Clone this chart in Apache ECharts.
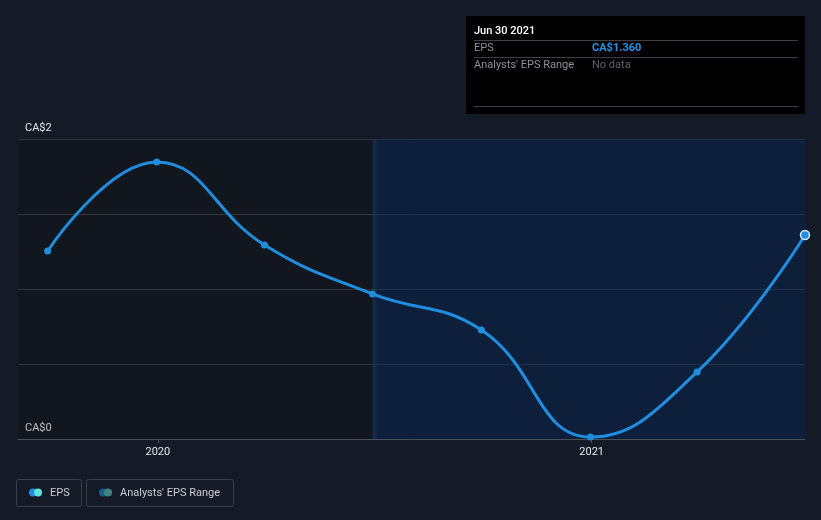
<!DOCTYPE html>
<html><head><meta charset="utf-8">
<script src="https://cdn.jsdelivr.net/npm/echarts@6/dist/echarts.min.js"></script>
<style>html,body{margin:0;padding:0;background:#151b26;}#c{width:821px;height:520px;}</style>
</head><body><div id="c"></div>
<script>
var dates = ['2019-09-30','2019-12-31','2020-03-31','2020-06-30','2020-09-30','2020-12-31','2021-03-31','2021-06-30'];
var eps = [1.253, 1.847, 1.293, 0.967, 0.727, 0.013, 0.447, 1.360];
var yTicks = [0, 2];
var xTickDates = ['2020-01-01','2021-01-01'];
var actualStart = '2020-06-30';
var axisStart = '2019-09-05';
var axisEnd = '2021-06-30';

function ts(d){ return new Date(d + 'T00:00:00Z').getTime(); }
var chart = echarts.init(document.getElementById('c'), null, {renderer:'canvas'});
var font = 'Roboto, "Noto Sans", sans-serif';
var DAY = 86400000;
chart.setOption({
  backgroundColor:'#151b26',
  animation:false,
  grid:{left:18, right:16, top:139, bottom:81},
  xAxis:{
    type:'value', min: ts(axisStart), max: ts(axisEnd),
    axisLine:{show:true, lineStyle:{color:'#4a4f59', width:1}},
    axisTick:{show:true, customValues: xTickDates.map(ts), length:4, lineStyle:{color:'#4a4f59'}},
    axisLabel:{customValues: xTickDates.map(ts), color:'#e6e8eb', fontFamily:font, fontSize:11, margin:8,
      formatter:function(v){ return new Date(v).getUTCFullYear() + ''; }},
    splitLine:{show:false}
  },
  yAxis:{
    type:'value', min:0, max:2, interval:0.5,
    axisLine:{show:false}, axisTick:{show:false},
    splitLine:{lineStyle:{color:'#3a404b', width:1}},
    axisLabel:{inside:true, margin:7, verticalAlign:'bottom', padding:[0,0,5,0], color:'#e6e8eb', fontFamily:font, fontSize:11,
      formatter:function(v){ return yTicks.indexOf(v) >= 0 ? 'CA$' + v : ''; }}
  },
  series:[{
    name:'EPS', type:'line', smooth:0.45,
    data: dates.map(function(d,i){ return [ts(d), eps[i]]; }),
    symbol:'circle', symbolSize:7,
    lineStyle:{color:'#1f8ee0', width:3},
    itemStyle:{color:'#1f8ee0'},
    z:5,
    markArea:{silent:true, data:[
      [{xAxis: ts(axisStart), itemStyle:{color:'rgba(0,0,0,0.18)'}}, {xAxis: ts(actualStart)}],
      [{xAxis: ts(actualStart), itemStyle:{color:'rgba(6,36,78,0.5)'},
        label:{show:true, position:'insideTopRight', formatter:'Actual', color:'#e6e8eb', fontFamily:font, fontSize:11, distance:[9,7]}},
       {xAxis: ts(axisEnd)}],
      [{xAxis: ts(actualStart), itemStyle:{color:'rgba(40,70,120,0.25)'}}, {xAxis: ts(actualStart) + 3.5*DAY}]
    ]}
  }],
  graphic:[
    {type:'rect', shape:{x:466,y:16,width:339,height:98}, style:{fill:'#000000'}},
    {type:'text', x:474, y:31, style:{text:'Jun 30 2021', fill:'#ffffff', font:'500 11px '+font, textVerticalAlign:'middle'}},
    {type:'line', shape:{x1:474,y1:40.5,x2:798,y2:40.5}, style:{stroke:'#3c3f45', lineWidth:1}},
    {type:'text', x:474, y:48, style:{text:'EPS', fill:'#8d9199', font:'11px '+font, textVerticalAlign:'middle'}},
    {type:'text', x:592, y:48, style:{text:'CA$1.360', fill:'#2394e6', font:'bold 11px '+font, textVerticalAlign:'middle'}},
    {type:'line', shape:{x1:474,y1:57.5,x2:798,y2:57.5}, style:{stroke:'#3c3f45', lineWidth:1}},
    {type:'text', x:474, y:65, style:{text:"Analysts' EPS Range", fill:'#8d9199', font:'11px '+font, textVerticalAlign:'middle'}},
    {type:'text', x:592, y:65, style:{text:'No data', fill:'#5e6269', font:'11px '+font, textVerticalAlign:'middle'}},
    {type:'line', shape:{x1:474,y1:106.5,x2:798,y2:106.5}, style:{stroke:'#3c3f45', lineWidth:1}},
    {type:'circle', shape:{cx:805, cy:235, r:4.5}, style:{fill:'#1f8ee0', stroke:'#d8ecff', lineWidth:1.5}, z:10},
    {type:'rect', shape:{x:16.5,y:479.5,width:65,height:27,r:2}, style:{fill:'none', stroke:'#3a3f49', lineWidth:1}},
    {type:'circle', shape:{cx:33, cy:492.5, r:4}, style:{fill:'#1f8ee0'}},
    {type:'circle', shape:{cx:38, cy:492.5, r:4}, style:{fill:'#5fe0d8'}},
    {type:'text', x:50, y:493, style:{text:'EPS', fill:'#c9ccd1', font:'11px '+font, textVerticalAlign:'middle'}},
    {type:'rect', shape:{x:86.5,y:479.5,width:147,height:27,r:2}, style:{fill:'none', stroke:'#3a3f49', lineWidth:1}},
    {type:'circle', shape:{cx:103, cy:492.5, r:4}, style:{fill:'#1e5a86'}},
    {type:'circle', shape:{cx:108, cy:492.5, r:4}, style:{fill:'#3f8582'}},
    {type:'text', x:120, y:493, style:{text:"Analysts' EPS Range", fill:'#c9ccd1', font:'11px '+font, textVerticalAlign:'middle'}}
  ]
});
</script></body></html>
